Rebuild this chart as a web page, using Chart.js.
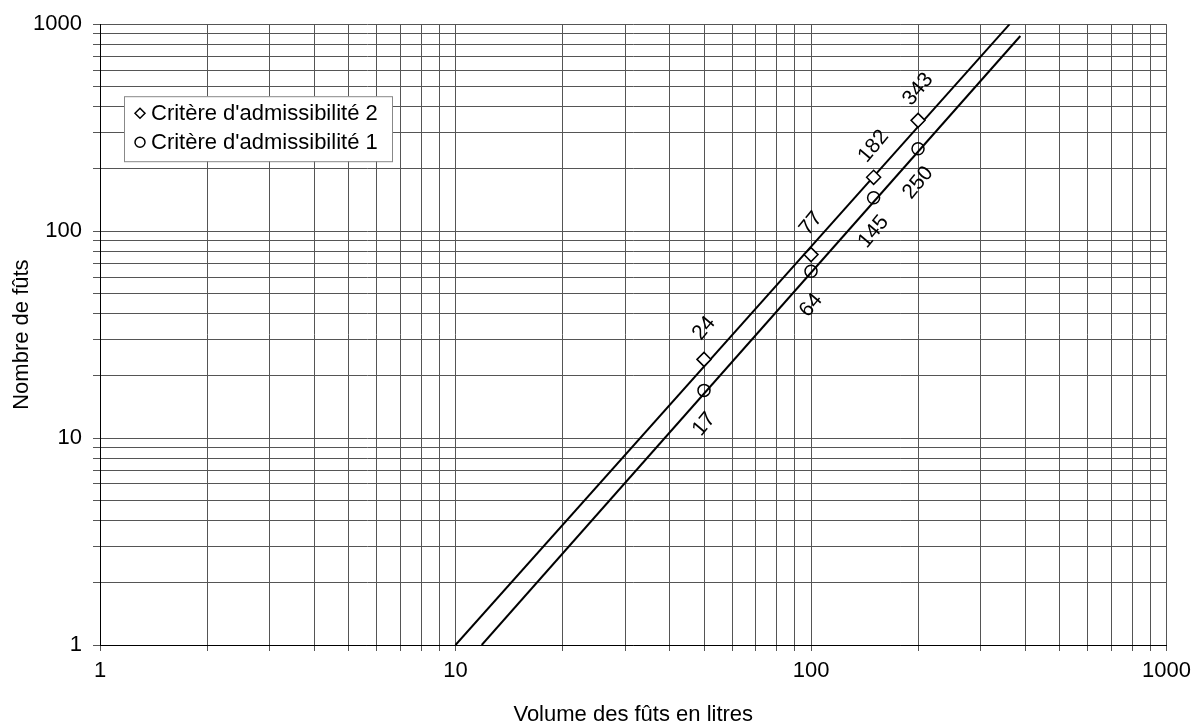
<!DOCTYPE html>
<html lang="fr">
<head>
<meta charset="UTF-8">
<title>Nombre de fûts</title>
<script src="https://cdn.jsdelivr.net/npm/chart.js"></script>
<style>
  html, body { margin: 0; padding: 0; background: #fff; }
  #wrap { width: 1198px; height: 728px; position: relative; }
</style>
</head>
<body>
<div id="wrap"><canvas id="chart" width="1198" height="728"></canvas></div>
<script>
// values
const volumes = [50, 100, 150, 200];
const critere2 = [24, 77, 182, 343];
const critere1 = [17, 64, 145, 250];

// trend lines (end points as drawn)
const trend2X = [10, 362];
const trend2Y = [1, 1000];
const trend1X = [11.85, 388];
const trend1Y = [1, 877];

const decades = [1, 10, 100, 1000];
const tickLabels = ['1', '10', '100', '1000'];

const FONT = 'Liberation Sans, Arial, sans-serif';

function logTicks(scale) {
  const t = [];
  decades.forEach(d => {
    if (d === 1000) { t.push({ value: d }); return; }
    for (let m = 1; m <= 9; m++) t.push({ value: d * m });
  });
  scale.ticks = t;
}
function majorOnly(v) {
  const i = decades.indexOf(v);
  return i >= 0 ? tickLabels[i] : '';
}

// rotated value labels beside the markers
const pointLabels = {
  id: 'pointLabels',
  afterDatasetsDraw(chart) {
    const ctx = chart.ctx;
    [[0, -31], [1, 34]].forEach(([di, dy]) => {
      const meta = chart.getDatasetMeta(di);
      const ds = chart.data.datasets[di];
      meta.data.forEach((pt, i) => {
        ctx.save();
        ctx.translate(pt.x, pt.y + dy);
        ctx.rotate(-50 * Math.PI / 180);
        ctx.font = '21px ' + FONT;
        ctx.fillStyle = '#000';
        ctx.textAlign = 'center';
        ctx.textBaseline = 'middle';
        ctx.fillText(String(ds.data[i].y), 0, 0);
        ctx.restore();
      });
    });
  }
};

// legend box inside the plot
const boxLegend = {
  id: 'boxLegend',
  afterDraw(chart) {
    const ctx = chart.ctx;
    const a = chart.chartArea;
    const x = a.left + 24, y = a.top + 72, w = 268, h = 65;
    ctx.save();
    ctx.fillStyle = '#fff';
    ctx.fillRect(x, y, w, h);
    ctx.strokeStyle = '#888';
    ctx.lineWidth = 1;
    ctx.strokeRect(x + 0.5, y + 0.5, w, h);
    ctx.font = '22px ' + FONT;
    ctx.fillStyle = '#000';
    ctx.textBaseline = 'middle';
    ctx.strokeStyle = '#000';
    ctx.lineWidth = 1.5;
    [0, 1].forEach((di, r) => {
      const cy = y + 17 + r * 29;
      const cx = x + 16;
      ctx.beginPath();
      if (r === 0) {
        ctx.moveTo(cx, cy - 5); ctx.lineTo(cx + 5, cy); ctx.lineTo(cx, cy + 5); ctx.lineTo(cx - 5, cy); ctx.closePath();
      } else {
        ctx.arc(cx, cy, 5, 0, Math.PI * 2);
      }
      ctx.stroke();
      ctx.fillText(chart.data.datasets[di].label, x + 27, cy + 1);
    });
    ctx.restore();
  }
};

const pts = (xs, ys) => xs.map((v, i) => ({ x: v, y: ys[i] }));

new Chart(document.getElementById('chart'), {
  type: 'scatter',
  data: {
    datasets: [
      {
        label: "Critère d'admissibilité 2",
        data: pts(volumes, critere2),
        pointStyle: 'rectRot',
        pointRadius: 7,
        pointBorderWidth: 1.5,
        pointBorderColor: '#000',
        pointBackgroundColor: '#fff'
      },
      {
        label: "Critère d'admissibilité 1",
        data: pts(volumes, critere1),
        pointStyle: 'circle',
        pointRadius: 6,
        pointBorderWidth: 1.5,
        pointBorderColor: '#000',
        pointBackgroundColor: 'rgba(0,0,0,0)'
      },
      {
        label: 'trend2',
        data: pts(trend2X, trend2Y),
        showLine: true,
        borderColor: '#000',
        borderWidth: 2,
        pointRadius: 0
      },
      {
        label: 'trend1',
        data: pts(trend1X, trend1Y),
        showLine: true,
        borderColor: '#000',
        borderWidth: 2,
        pointRadius: 0
      }
    ]
  },
  options: {
    responsive: false,
    animation: false,
    layout: { padding: { top: 18, right: 31, left: 0, bottom: 0 } },
    plugins: {
      legend: { display: false },
      tooltip: { enabled: false }
    },
    scales: {
      x: {
        type: 'logarithmic',
        min: 1,
        max: 1000,
        afterBuildTicks: logTicks,
        afterFit(s) { s.height = 83; },
        border: { color: '#000', width: 1 },
        grid: { color: '#555', lineWidth: 1, tickLength: 6 },
        ticks: {
          autoSkip: false,
          maxRotation: 0,
          minRotation: 0,
          padding: 7,
          color: '#000',
          font: { family: FONT, size: 22 },
          callback: v => majorOnly(v)
        },
        title: {
          display: true,
          text: 'Volume des fûts en litres',
          color: '#000',
          font: { family: FONT, size: 22 },
          padding: { top: 0, bottom: 0 }
        }
      },
      y: {
        type: 'logarithmic',
        min: 1,
        max: 1000,
        afterBuildTicks: logTicks,
        afterFit(s) { s.width = 100; },
        border: { color: '#000', width: 1 },
        grid: { color: '#555', lineWidth: 1, tickLength: 7 },
        ticks: {
          autoSkip: false,
          padding: 11,
          color: '#000',
          font: { family: FONT, size: 22 },
          callback: v => majorOnly(v)
        },
        title: {
          display: true,
          text: 'Nombre de fûts',
          color: '#000',
          font: { family: FONT, size: 22 },
          padding: { top: 9, bottom: 0 }
        }
      }
    }
  },
  plugins: [pointLabels, boxLegend]
});
</script>
</body>
</html>
